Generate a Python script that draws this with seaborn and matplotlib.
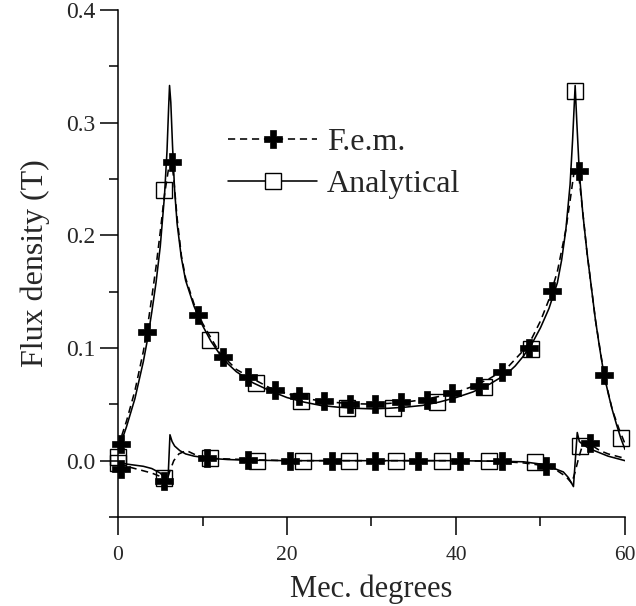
import matplotlib
matplotlib.use("Agg")
import matplotlib.pyplot as plt
from matplotlib.lines import Line2D
from matplotlib.ticker import MultipleLocator, FormatStrFormatter
import numpy as np
import pandas as pd
import seaborn as sns

# ---------------- data ----------------
# upper curve, analytical (solid)
up_an_x = [0, 1, 2, 3, 3.5, 4, 4.5, 5, 5.5, 5.8, 6.0, 6.1, 6.25, 6.45, 6.7, 7, 7.5, 8, 9, 10,
           11, 12, 13, 14, 16, 18, 20, 22, 24, 26, 28, 30, 32, 34, 36, 38, 40, 42, 44, 46,
           47, 48, 49, 50, 51, 52, 52.5, 53, 53.5, 53.8, 54.1, 54.3, 54.6, 55, 55.5, 56, 56.5,
           57, 57.5, 58, 58.5, 59, 59.5, 60]
up_an_y = [0.008, 0.03, 0.055, 0.088, 0.108, 0.132, 0.158, 0.19, 0.235, 0.275, 0.315, 0.333, 0.318,
           0.28, 0.24, 0.21, 0.18, 0.16, 0.137, 0.12,
           0.106, 0.095, 0.086, 0.079, 0.069, 0.062, 0.056, 0.052, 0.049, 0.0475, 0.0465, 0.046,
           0.0465, 0.0475, 0.049, 0.052, 0.056, 0.061, 0.068, 0.077,
           0.084, 0.093, 0.104, 0.118, 0.135, 0.158, 0.178, 0.205, 0.245, 0.285, 0.333, 0.3,
           0.255, 0.22, 0.185, 0.155, 0.125, 0.1, 0.077, 0.06, 0.045, 0.032, 0.02, 0.01]

# upper curve, F.e.m. (dashed)
up_fem_x = [0, 1, 2, 3, 3.4, 4, 4.5, 5, 5.5, 6.0, 6.35, 6.6, 7, 7.5, 8, 9, 10, 12, 14, 16, 18,
            20, 22, 24, 26, 28, 30, 32, 34, 36, 38, 40, 42, 44, 46, 48, 49, 50, 51, 52, 53,
            53.6, 54.0, 54.4, 54.8, 55.5, 56.5, 57.5, 58.5, 59.3, 60]
up_fem_y = [0.012, 0.035, 0.062, 0.097, 0.114, 0.145, 0.172, 0.203, 0.236, 0.26, 0.266, 0.25, 0.215,
            0.182, 0.162, 0.139, 0.122, 0.096, 0.081, 0.0725, 0.0645, 0.0595, 0.0555, 0.053, 0.0515,
            0.0505, 0.0502, 0.0508, 0.052, 0.054, 0.057, 0.0605, 0.066, 0.073, 0.082, 0.098, 0.109,
            0.124, 0.143, 0.168, 0.205, 0.236, 0.258, 0.262, 0.235, 0.185, 0.125, 0.077, 0.045,
            0.028, 0.015]

# lower curve, analytical (solid)
lo_an_x = [0, 0.5, 1, 2, 3, 4, 4.5, 5, 5.5, 5.9, 6.15, 6.4, 6.7, 7, 7.3, 8, 9, 10, 11, 13, 15,
           20, 25, 30, 35, 40, 45, 48, 50, 51, 52, 52.7, 53.3, 53.9, 54.35, 54.6, 54.9, 55.5,
           56, 57, 58, 59, 60]
lo_an_y = [-0.001, -0.002, -0.003, -0.004, -0.005, -0.007, -0.009, -0.011, -0.015, -0.02, 0.023,
           0.017, 0.013, 0.011, 0.009, 0.006, 0.004, 0.003, 0.002, 0.001, 0.0005,
           0.0, 0.0, 0.0, 0.0, 0.0, -0.0005, -0.001, -0.003, -0.005, -0.008, -0.01, -0.015,
           -0.023, 0.025, 0.017, 0.015, 0.012, 0.01, 0.007, 0.004, 0.002, 0.0]

# lower curve, F.e.m. (dashed)
lo_fem_x = [0, 1, 2, 3, 4, 5, 5.7, 6.1, 6.6, 7.2, 8.1, 9.5, 11, 15, 20, 25, 30, 35, 40, 45,
            48, 50, 51, 52, 53, 53.7, 54.1, 54.5, 54.9, 55.4, 56, 57, 58, 59, 60]
lo_fem_y = [-0.003, -0.005, -0.007, -0.009, -0.011, -0.014, -0.02, -0.01, 0.0, 0.006, 0.009, 0.004,
            0.002, 0.001, 0.0, 0.0, 0.0, 0.0, 0.0, -0.0005,
            -0.002, -0.004, -0.006, -0.009, -0.014, -0.02, -0.01, 0.002, 0.012, 0.017, 0.014,
            0.009, 0.006, 0.004, 0.002]

# markers: F.e.m. (+)
fem_mk_up_x = [0.4, 3.4, 6.35, 9.45, 12.4, 15.4, 18.6, 21.4, 24.4, 27.5, 30.4, 33.5, 36.6,
               39.5, 42.7, 45.5, 48.6, 51.4, 54.5, 57.5]
fem_mk_up_y = [0.015, 0.114, 0.265, 0.129, 0.092, 0.0745, 0.063, 0.057, 0.0527, 0.0505, 0.0505,
               0.052, 0.054, 0.0597, 0.0666, 0.079, 0.100, 0.151, 0.257, 0.076]
fem_mk_lo_x = [0.3, 5.5, 10.5, 15.4, 20.4, 25.3, 30.4, 35.5, 40.5, 45.4, 50.6, 55.8]
fem_mk_lo_y = [-0.007, -0.018, 0.0027, 0.001, 0.0, 0.0, 0.0, 0.0, 0.0, -0.0005, -0.0045, 0.016]

# markers: Analytical (squares)
an_mk_up_x = [0.0, 5.44, 10.9, 16.3, 21.7, 27.1, 32.5, 37.8, 43.3, 48.9, 54.1, 59.5]
an_mk_up_y = [0.003, 0.24, 0.107, 0.0686, 0.053, 0.047, 0.047, 0.052, 0.0657, 0.099, 0.328, 0.02]
an_mk_lo_x = [0.0, 5.4, 10.9, 16.4, 21.9, 27.3, 32.9, 38.4, 43.9, 49.3, 54.7]
an_mk_lo_y = [-0.002, -0.015, 0.002, 0.0, 0.0, 0.0, 0.0, 0.0, 0.0, -0.0015, 0.013]

series_labels = ["F.e.m.", "Analytical"]
x_label = "Mec. degrees"
y_label = "Flux density (T)"

# ---------------- plotting ----------------
sns.set_style("ticks")
plt.rcParams["font.family"] = ["Liberation Serif", "DejaVu Serif"]

fig = plt.figure(figsize=(6.36, 6.06), dpi=100)
ax = fig.add_axes([118 / 636, 89 / 606, 507 / 636, 507 / 606])

lw = 1.15
dash = (4.5, 3.0)


def curve(x, y, dashed):
    df = pd.DataFrame({"x": x, "y": y})
    kw = dict(color="black", linewidth=lw, sort=False, estimator=None, ax=ax, legend=False)
    sns.lineplot(data=df, x="x", y="y", **kw)
    if dashed:
        ax.lines[-1].set_dashes(dash)


curve(up_an_x, up_an_y, False)
curve(lo_an_x, lo_an_y, False)
curve(up_fem_x, up_fem_y, True)
curve(lo_fem_x, lo_fem_y, True)

for mx, my in [(an_mk_up_x, an_mk_up_y), (an_mk_lo_x, an_mk_lo_y)]:
    df = pd.DataFrame({"x": mx, "y": my})
    sns.lineplot(data=df, x="x", y="y", ax=ax, sort=False, estimator=None, legend=False,
                 linestyle="none", marker="s", markersize=12, markerfacecolor="none",
                 markeredgecolor="black", markeredgewidth=1.0, color="black", clip_on=False,
                 zorder=3)
for mx, my in [(fem_mk_up_x, fem_mk_up_y), (fem_mk_lo_x, fem_mk_lo_y)]:
    df = pd.DataFrame({"x": mx, "y": my})
    sns.lineplot(data=df, x="x", y="y", ax=ax, sort=False, estimator=None, legend=False,
                 linestyle="none", marker="P", markersize=12.5, markerfacecolor="black",
                 markeredgecolor="black", markeredgewidth=0.5, color="black", clip_on=False,
                 zorder=4)

ax.set_xlim(0, 60)
ax.set_ylim(-0.05, 0.4)
ax.xaxis.set_major_locator(MultipleLocator(20))
ax.xaxis.set_minor_locator(MultipleLocator(10))
ax.yaxis.set_major_locator(MultipleLocator(0.1))
ax.yaxis.set_minor_locator(MultipleLocator(0.05))
ax.yaxis.set_major_formatter(FormatStrFormatter("%.1f"))
ax.xaxis.set_major_formatter(FormatStrFormatter("%d"))

sns.despine(ax=ax)
for s in ["left", "bottom"]:
    ax.spines[s].set_linewidth(1.1)
    ax.spines[s].set_color("black")

ax.tick_params(axis="both", which="major", direction="out", length=13, width=1.1, color="black")
ax.tick_params(axis="both", which="minor", direction="out", length=6.5, width=1.1, color="black")
ax.tick_params(axis="x", which="major", labelsize=15.5, pad=8)
ax.tick_params(axis="y", which="major", labelsize=17, pad=3)

ax.set_xlabel(x_label, fontsize=22, labelpad=7)
ax.set_ylabel(y_label, fontsize=23, labelpad=12)

handles = [
    Line2D([], [], color="black", linewidth=lw, dashes=dash, marker="P", markersize=12.5,
           markerfacecolor="black", markeredgecolor="black", markeredgewidth=0.5),
    Line2D([], [], color="black", linewidth=lw, marker="s", markersize=12,
           markerfacecolor="white", markeredgecolor="black", markeredgewidth=1.0),
]
fig.legend(handles, series_labels, loc="upper left", bbox_to_anchor=(212 / 636, 1 - 112 / 606),
           frameon=False, fontsize=23, handlelength=2.8, handletextpad=0.3, labelspacing=0.38,
           borderpad=0, numpoints=1)

fig.savefig("out.png", dpi=100)
